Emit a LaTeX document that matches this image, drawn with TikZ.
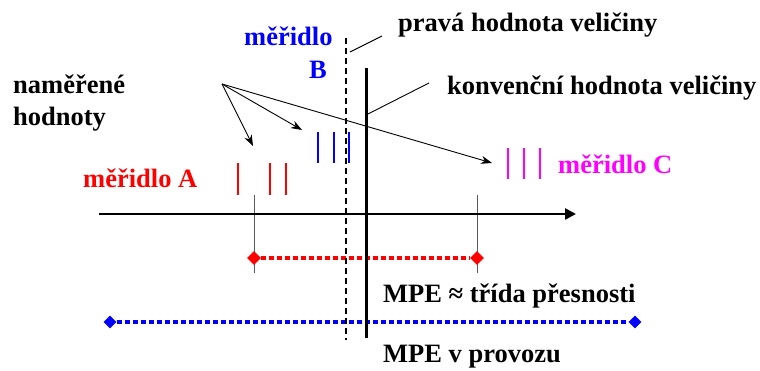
\documentclass[tikz,border=0pt]{standalone}
\usepackage{fontspec}
\setmainfont{Liberation Serif}
\newfontfamily\lblfont{Liberation Serif}[BoldFont={Liberation Serif Bold}]
\usetikzlibrary{arrows.meta,shapes.geometric}
\definecolor{mag}{RGB}{255,0,255}
\definecolor{rd}{RGB}{255,0,0}
\definecolor{bl}{RGB}{0,0,255}
\begin{document}
\begin{tikzpicture}[x=1pt,y=-1pt,
  lbl/.style={anchor=base west,inner sep=0pt,font=\lblfont\fontsize{26.5}{30}\selectfont\bfseries},
  leader/.style={line width=0.9pt},
  pointer/.style={line width=0.9pt,-{Stealth[length=11pt,width=8pt]}},
  tickA/.style={rd,line width=1.3pt},
  tickB/.style={bl,line width=1.3pt},
  tickC/.style={mag,line width=1.3pt},
  guide/.style={gray!70!black,line width=0.8pt},
  dia/.style={diamond,inner sep=0pt,minimum size=14pt},
  dotline/.style={line width=4pt,dash pattern=on 5pt off 3pt}
]
\path[use as bounding box,fill=white] (0,0) rectangle (760,371);

% texts
\node[lbl] (prava) at (398,32) {pravá hodnota veličiny};
\node[lbl] (konv) at (447,95) {konvenční hodnota veličiny};
\node[lbl,bl] (mB1) at (244,46) {měřidlo};
\node[lbl,bl] (mB2) at (309,79) {B};
\node[lbl] (nam1) at (13,94) {naměřené};
\node[lbl] (nam2) at (13,126) {hodnoty};
\node[lbl,rd] (mA) at (83,188) {měřidlo A};
\node[lbl,mag] (mC) at (558,174) {měřidlo C};
\node[lbl] (mpe1) at (383,302) {MPE ≈ třída přesnosti};
\node[lbl] (mpe2) at (383,362) {MPE v provozu};

% coordinates
\coordinate (axL) at (99,214);
\coordinate (axR) at (576,214);
\coordinate (dashT) at (346,38);
\coordinate (dashB) at (346,340);
\coordinate (solT) at (366,68);
\coordinate (solB) at (366,338);
\coordinate (gA1) at (254,195);
\coordinate (gA2) at (254,273);
\coordinate (gC1) at (477,195);
\coordinate (gC2) at (477,273);
\coordinate (src) at (222,84);
\coordinate (tA) at (253,146);
\coordinate (tB) at (302,130);
\coordinate (tC) at (492,163);
\coordinate (lpA) at (350,52);
\coordinate (lpB) at (382,36);
\coordinate (lkA) at (366,115);
\coordinate (lkB) at (429,83);

% guides
\draw[guide] (gA1) -- (gA2);
\draw[guide] (gC1) -- (gC2);

% diamonds
\node[dia,fill=rd] (rL) at (254,258) {};
\node[dia,fill=rd] (rR) at (477,258) {};
\node[dia,fill=bl,minimum size=13pt] (bL) at (110,322) {};
\node[dia,fill=bl,minimum size=13pt] (bR) at (635,322) {};

% dotted ranges
\draw[dotline,rd] (rL.east) -- (rR.west);
\draw[dotline,bl,line width=3.5pt] (bL.east) -- (bR.west);

% axis
\draw[line width=2.5pt,-{Triangle[length=11pt,width=11pt]}] (axL) -- (axR);

% verticals
\draw[line width=1.6pt,dash pattern=on 6pt off 4pt] (dashT) -- (dashB);
\draw[line width=3pt] (solT) -- (solB);

% leaders
\draw[leader] (lpA) -- (lpB);
\draw[leader] (lkA) -- (lkB);

% pointers
\draw[pointer] (src) -- (tA);
\draw[pointer] (src) -- (tB);
\draw[pointer] (src) -- (tC);

% ticks
\foreach \x in {238,270,286} \draw[tickA] (\x,163) -- (\x,195);
\foreach \x in {318,334,349} \draw[tickB] (\x,132) -- (\x,163);
\foreach \x in {508,524,540} \draw[tickC] (\x,148) -- (\x,179);
\end{tikzpicture}
\end{document}
